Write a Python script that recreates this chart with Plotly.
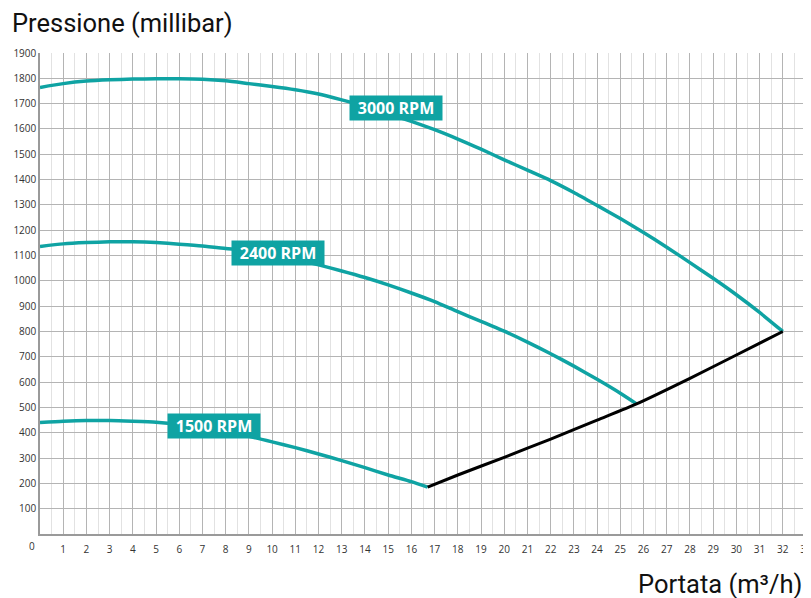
import plotly.graph_objects as go

# curve data (m3/h vs millibar)
q_3000 = [0, 1, 2, 3, 4, 5, 6, 7, 8, 9, 10, 11, 12, 13, 14, 15, 16,
          17, 18, 19, 20, 21, 22, 23, 24, 25, 26, 27, 28, 29, 30, 31, 32]
p_3000 = [1764, 1779, 1789, 1794, 1797, 1798, 1798, 1796, 1790, 1779, 1768, 1755,
          1738, 1715, 1690, 1660, 1630, 1597, 1560, 1520, 1478, 1437, 1396, 1349,
          1298, 1246, 1191, 1133, 1072, 1010, 945, 875, 800]

q_2400 = [0, 1, 2, 3, 4, 5, 6, 7, 8, 9, 10, 11, 12, 13, 14, 15, 16,
          17, 18, 19, 20, 21, 22, 23, 24, 25, 25.7]
p_2400 = [1136, 1146, 1151, 1154, 1154, 1151, 1145, 1138, 1128, 1118, 1104, 1085,
          1063, 1039, 1013, 984, 952, 918, 878, 840, 801, 758, 712, 663, 611, 556, 514]

q_1500 = [0, 1, 2, 3, 4, 5, 6, 7, 8, 9, 10, 11, 12, 13, 14, 15, 16, 16.7]
p_1500 = [440, 445, 448, 448, 445, 441, 433, 421, 405, 386, 364, 341,
          316, 290, 262, 233, 207, 185]

q_limit = [16.7, 18, 20, 22, 24, 25.7, 28, 30, 32]
p_limit = [185, 233, 303, 375, 450, 514, 615, 707, 800]

labels = ['3000 RPM', '2400 RPM', '1500 RPM']
label_q = [15.34, 10.26, 7.49]
label_p = [1681, 1109, 428]

x_ticks = list(range(1, 34))
y_ticks = list(range(100, 2000, 100))

teal = '#0fa3a3'

fig = go.Figure()

for q, p in [(q_3000, p_3000), (q_2400, p_2400), (q_1500, p_1500)]:
    fig.add_trace(go.Scatter(x=q, y=p, mode='lines',
                             line=dict(color=teal, width=3.5, shape='spline', smoothing=0.6),
                             hoverinfo='skip'))

fig.add_trace(go.Scatter(x=q_limit, y=p_limit, mode='lines',
                         line=dict(color='black', width=3, shape='spline', smoothing=0.6),
                         hoverinfo='skip'))

for txt, q, p in zip(labels, label_q, label_p):
    fig.add_annotation(x=q, y=p, text='<b>' + txt + '</b>', showarrow=False,
                       font=dict(family='Open Sans', size=16, color='white'),
                       bgcolor=teal, width=88, height=20, borderpad=2)

# lone origin label
fig.add_annotation(x=0, y=0, text='0', showarrow=False, xanchor='right', yanchor='top',
                   xshift=-3, yshift=-3,
                   font=dict(family='Open Sans', size=10, color='#333'))

fig.add_annotation(x=0, y=1, xref='paper', yref='paper', text='Pressione (millibar)',
                   showarrow=False, xanchor='left', yanchor='bottom', xshift=-30, yshift=13,
                   font=dict(family='Roboto', size=25.5, color='#111'))
fig.add_annotation(x=1, y=0, xref='paper', yref='paper', text='Portata (m³/h)',
                   showarrow=False, xanchor='right', yanchor='top', xshift=-2, yshift=-33,
                   font=dict(family='Roboto', size=25.5, color='#111'))

fig.update_xaxes(range=[0, 33], tickvals=x_ticks, ticktext=[str(v) for v in x_ticks],
                 showgrid=True, gridcolor='#b4b4b4', gridwidth=1,
                 minor=dict(dtick=0.5, tick0=0, showgrid=True, gridcolor='#e2e2e2'),
                 showline=True, linecolor='#9a9a9a', linewidth=1.5, automargin=False,
                 ticks='', ticklabelstandoff=5, ticklabeloverflow='allow', zeroline=False,
                 tickfont=dict(family='Open Sans', size=10, color='#333'))
fig.update_yaxes(range=[0, 1900], tickvals=y_ticks, ticktext=[str(v) for v in y_ticks],
                 showgrid=True, gridcolor='#b4b4b4', gridwidth=1,
                 showline=True, linecolor='#9a9a9a', linewidth=1.5, automargin=False,
                 ticks='', ticklabelstandoff=0, zeroline=False,
                 tickfont=dict(family='Open Sans', size=10, color='#333'))

# page body keeps its 8px margin, so the figure is sized to fit inside it
fig.layout.update(width=803, height=590, showlegend=False,
                  margin=dict(l=32, r=5, t=45, b=64),
                  plot_bgcolor='white', paper_bgcolor='white')

fig.write_html('out.html')
